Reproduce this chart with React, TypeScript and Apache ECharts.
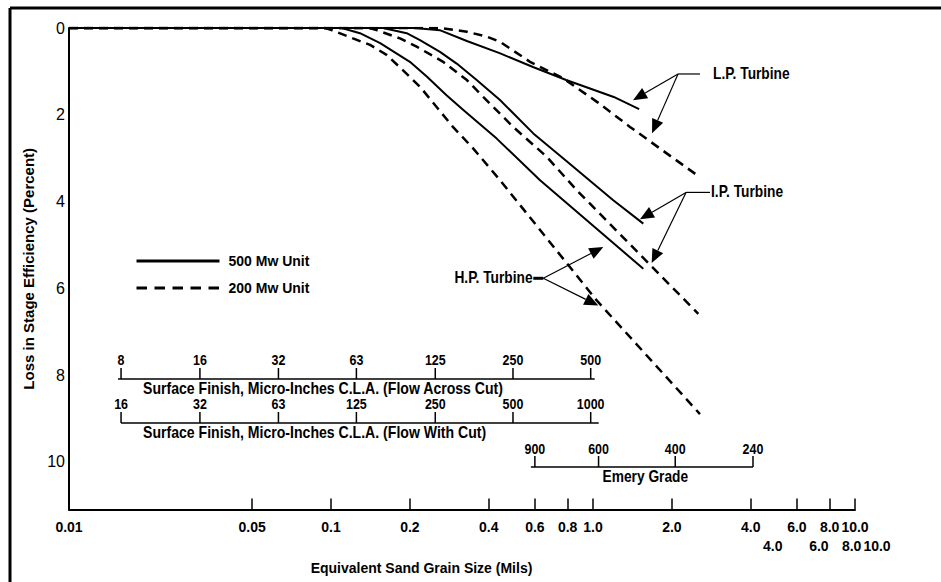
import React, { useEffect, useRef } from "react";
import * as echarts from "echarts";

// ---- curve data (x: equivalent sand grain size, mils; y: loss in stage efficiency, %) ----
const lpSolidX = [0.01, 0.209, 0.26, 0.33, 0.44, 0.59, 0.79, 1.2, 1.5];
const lpSolidY = [0, 0, 0.05, 0.3, 0.58, 0.9, 1.2, 1.59, 1.87];
const lpDashX = [0.01, 0.26, 0.33, 0.393, 0.442, 0.575, 0.77, 1.045, 1.384, 1.911, 2.56];
const lpDashY = [0, 0, 0.085, 0.2, 0.32, 0.78, 1.16, 1.72, 2.28, 2.89, 3.44];
const ipSolidX = [0.01, 0.158, 0.1945, 0.2186, 0.2606, 0.3018, 0.3598, 0.4416, 0.5917, 0.7935, 1.195, 1.556];
const ipSolidY = [0, 0, 0.12, 0.28, 0.55, 0.82, 1.2, 1.66, 2.43, 3.07, 3.97, 4.51];
const ipDashX = [0.01, 0.14, 0.1494, 0.1834, 0.2123, 0.268, 0.33, 0.381, 0.496, 0.666, 0.867, 2.523];
const ipDashY = [0, 0, 0.05, 0.24, 0.43, 0.78, 1.2, 1.59, 2.28, 2.97, 3.74, 6.59];
const hpSolidX = [0.01, 0.11, 0.129, 0.154, 0.2, 0.232, 0.276, 0.32, 0.429, 0.628, 1.556];
const hpSolidY = [0, 0, 0.12, 0.35, 0.78, 1.12, 1.55, 1.89, 2.55, 3.51, 5.55];
const hpDashX = [0.01, 0.095, 0.1006, 0.1213, 0.141, 0.163, 0.188, 0.219, 0.253, 0.292, 0.348, 0.442, 1.033, 2.56];
const hpDashY = [0, 0, 0.05, 0.24, 0.39, 0.62, 0.97, 1.36, 1.82, 2.28, 2.77, 3.51, 6.28, 8.9];

// ---- axis ticks ----
const xTickValues = [0.05, 0.1, 0.2, 0.4, 0.6, 0.8, 1.0, 2.0, 4.0, 6.0, 8.0, 10.0];
const xLabelValues = [0.01, 0.05, 0.1, 0.2, 0.4, 0.6, 0.8, 1.0, 2.0, 4.0, 6.0, 8.0, 10.0];
const xLabelTexts = ["0.01", "0.05", "0.1", "0.2", "0.4", "0.6", "0.8", "1.0", "2.0", "4.0", "6.0", "8.0", "10.0"];
const xExtraValues = [4.0, 6.0, 8.0, 10.0];
const xExtraTexts = ["4.0", "6.0", "8.0", "10.0"];
const yLabelValues = [0, 2, 4, 6, 8, 10];

// ---- auxiliary scales (tick label, equivalent mils) ----
const acrossLabels = ["8", "16", "32", "63", "125", "250", "500"];
const withLabels = ["16", "32", "63", "125", "250", "500", "1000"];
const finishMils = [0.0158, 0.0316, 0.063, 0.125, 0.25, 0.495, 0.98];
const emeryLabels = ["900", "600", "400", "240"];
const emeryMils = [0.6, 1.05, 2.06, 4.08];

// ---- annotations (data coordinates) ----
const lpNote = { text: "L.P. Turbine", origin: [2.111, 1.06], barTo: 2.561, textX: 2.871, tips: [[1.4215, 1.663], [1.68, 2.425]] };
const ipNote = { text: "I.P. Turbine", origin: [2.265, 3.79], barTo: 2.797, textX: 2.822, tips: [[1.511, 4.41], [1.675, 5.42]] };
const hpNote = { text: "H.P. Turbine", origin: [0.646, 5.77], barTo: 0.5917, textX: 0.588, tips: [[1.0947, 5.05], [1.0476, 6.4]] };

const FONT = "'Liberation Sans Narrow', 'Arial Narrow', 'Liberation Sans', Arial, sans-serif";

function mkSeries(name: string, xs: number[], ys: number[], dashed: boolean) {
  return {
    type: "line",
    name,
    data: xs.map((x, i) => [Math.log10(x), ys[i]]),
    symbol: "none",
    silent: true,
    lineStyle: { color: "#000", width: dashed ? 2.5 : 2, type: dashed ? [9, 6] : "solid" },
    itemStyle: { color: "#000" },
  };
}

export default function App() {
  const ref = useRef<HTMLDivElement>(null);
  useEffect(() => {
    if (!ref.current) return;
    const chart = echarts.init(ref.current, null, { renderer: "svg" });
    const labelFor = (v: number) => {
      let best = 0;
      let bd = Infinity;
      xLabelValues.forEach((x, i) => {
        const d = Math.abs(Math.log10(x) - v);
        if (d < bd) { bd = d; best = i; }
      });
      return xLabelTexts[best];
    };
    const option: any = {
      animation: false,
      grid: { left: 69, right: 86, top: 28, bottom: 72.5 },
      legend: {
        left: 130,
        top: 249,
        orient: "vertical",
        itemWidth: 83,
        itemHeight: 14,
        itemGap: 13,
        selectedMode: false,
        data: [
          { name: "500 Mw Unit", lineStyle: { width: 3, type: "solid", color: "#000" }, itemStyle: { opacity: 0 } },
          { name: "200 Mw Unit", lineStyle: { width: 3, type: [10.5, 7.5], color: "#000" }, itemStyle: { opacity: 0 } },
        ],
        textStyle: { fontFamily: FONT, fontWeight: "bold", fontSize: 14, color: "#000", padding: [0, 0, 0, 4] },
      },
      xAxis: {
        type: "value",
        min: -2,
        max: 1,
        axisLine: { onZero: false, lineStyle: { color: "#000", width: 2 } },
        axisTick: { inside: true, length: 11, customValues: xTickValues.map((v) => Math.log10(v)), lineStyle: { color: "#000", width: 1.5 } },
        axisLabel: {
          customValues: xLabelValues.map((v) => Math.log10(v)),
          formatter: (v: number) => labelFor(v),
          fontFamily: FONT,
          fontWeight: "bold",
          fontSize: 14,
          color: "#000",
          margin: 10,
        },
        splitLine: { show: false },
        name: "Equivalent Sand Grain Size (Mils)",
        nameLocation: "middle",
        nameGap: 51,
        nameTextStyle: { fontFamily: FONT, fontWeight: "bold", fontSize: 14, color: "#000", padding: [0, 81, 0, 0] },
      },
      yAxis: {
        type: "value",
        inverse: true,
        min: 0,
        max: 11.1,
        axisLine: { show: true, onZero: false, lineStyle: { color: "#000", width: 2 } },
        axisTick: { show: false },
        axisLabel: { customValues: yLabelValues, fontFamily: FONT, fontSize: 16, color: "#000", margin: 4 },
        splitLine: { show: false },
        name: "Loss in Stage Efficiency (Percent)",
        nameLocation: "middle",
        nameGap: 30,
        nameTextStyle: { fontFamily: FONT, fontWeight: "bold", fontSize: 15, color: "#000" },
      },
      series: [
        mkSeries("500 Mw Unit", lpSolidX, lpSolidY, false),
        mkSeries("200 Mw Unit", lpDashX, lpDashY, true),
        mkSeries("500 Mw Unit", ipSolidX, ipSolidY, false),
        mkSeries("200 Mw Unit", ipDashX, ipDashY, true),
        mkSeries("500 Mw Unit", hpSolidX, hpSolidY, false),
        mkSeries("200 Mw Unit", hpDashX, hpDashY, true),
      ],
    };
    chart.setOption(option);

    const toPx = (x: number, y: number) => chart.convertToPixel({ gridIndex: 0 }, [Math.log10(x), y]) as number[];
    const toX = (x: number) => chart.convertToPixel({ xAxisIndex: 0 }, Math.log10(x)) as number;
    const g: any[] = [];
    const txt = (text: string, x: number, y: number, align = "center", size = 16, sx = 0.86) =>
      g.push({
        type: "text", x, y, scaleX: sx, silent: true,
        style: { text, fontFamily: FONT, fontWeight: "bold", fontSize: size, fill: "#000", align, verticalAlign: "middle" },
      });
    const ln = (x1: number, y1: number, x2: number, y2: number, w = 1.5) =>
      g.push({ type: "line", silent: true, shape: { x1, y1, x2, y2 }, style: { stroke: "#000", lineWidth: w } });

    // border
    ln(10, 8, 941, 8, 3);
    ln(10, 8, 10, 582, 3);

    // second row of labels
    xExtraValues.forEach((v, i) => txt(xExtraTexts[i], toX(v) + 22, 546, "center", 14, 1));

    // auxiliary scales
    const scale = (labels: string[], mils: number[], lineY: number, labelY: number, ext: [number, number]) => {
      const xs = mils.map(toX);
      ln(xs[0] - ext[0], lineY, xs[xs.length - 1] + ext[1], lineY, 1.5);
      xs.forEach((x, i) => {
        ln(x, lineY, x, lineY - 11, 1.5);
        txt(labels[i], x, labelY, "center", 15, 0.83);
      });
      return xs;
    };
    const a = scale(acrossLabels, finishMils, 379, 360, [3, 4]);
    txt("Surface Finish, Micro-Inches C.L.A. (Flow Across Cut)", a[0] + 22, 388, "left", 16, 0.88);
    const w = scale(withLabels, finishMils, 423, 404, [0, 8]);
    txt("Surface Finish, Micro-Inches C.L.A. (Flow With Cut)", w[0] + 22, 432, "left", 16, 0.88);
    const e = scale(emeryLabels, emeryMils, 467, 449, [4, 0]);
    txt("Emery Grade", e[1] + 4, 476, "left", 16, 0.86);

    // annotations
    const arrow = (from: number[], to: number[]) => {
      const dx = to[0] - from[0];
      const dy = to[1] - from[1];
      const len = Math.hypot(dx, dy);
      const ux = dx / len, uy = dy / len;
      const L = 14, W = 6;
      const bx = to[0] - ux * L, by = to[1] - uy * L;
      ln(from[0], from[1], bx, by, 1.2);
      g.push({ type: "polygon", silent: true, shape: { points: [[to[0], to[1]], [bx - uy * W, by + ux * W], [bx + uy * W, by - ux * W]] }, style: { fill: "#000" } });
    };
    const note = (n: any, side: "left" | "right", barW: number) => {
      const o = toPx(n.origin[0], n.origin[1]);
      const bx = toX(n.barTo);
      ln(o[0], o[1], bx, o[1], barW);
      n.tips.forEach((t: number[]) => arrow(o, toPx(t[0], t[1])));
      txt(n.text, toX(n.textX), o[1] - 1, side, 16, 0.86);
    };
    note(lpNote, "left", 1.2);
    note(ipNote, "left", 1.2);
    note(hpNote, "right", 3);

    chart.setOption({ graphic: g });
    return () => chart.dispose();
  }, []);
  return <div ref={ref} style={{ position: "absolute", left: 0, top: 0, width: 941, height: 582, background: "#fff" }} />;
}
